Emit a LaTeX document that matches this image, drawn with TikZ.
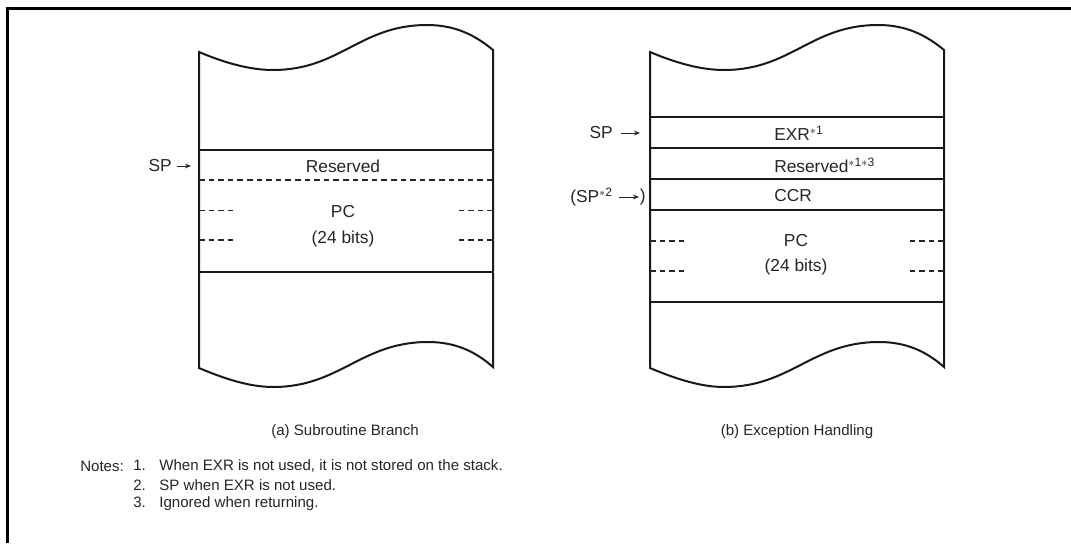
\documentclass[tikz,border=0pt]{standalone}
\usepackage{fontspec}
\setmainfont{Liberation Sans}
\usetikzlibrary{arrows.meta}
\begin{document}
\begin{tikzpicture}[x=0.75pt,y=-0.75pt,
  stackline/.style={line width=1.5pt,draw=black!90},
  divline/.style={line width=1.5pt,draw=black!90},
  dashline/.style={line width=0.85pt,draw=black!85,dash pattern=on 4.2pt off 3pt},
  txt/.style={inner sep=0pt,font=\fontsize{13}{15}\selectfont,text=black!85},
  small/.style={inner sep=0pt,font=\fontsize{11.3}{13}\selectfont,text=black!85},
  sparrow/.style={line width=0.6pt,draw=black!85,-{Stealth[length=4.5pt,width=3.6pt]}}]
\useasboundingbox (0,0) rectangle (1071,543);
\fill[white] (0,0) rectangle (1071,543);
% outer frame
\draw[line width=1.7pt] (7.5,543) -- (7.5,8.5) -- (1071,8.5);

% ---------- stack (a) ----------
\draw[stackline] (199,52) .. controls (225,63) and (250,70) .. (273,70)
  .. controls (340,70) and (360,25) .. (427,25)
  .. controls (455,25) and (475,35) .. (493,50)
  -- (493,367)
  .. controls (476,352) and (456,342) .. (428,342)
  .. controls (361,342) and (340,387) .. (273,387)
  .. controls (250,387) and (225,379) .. (199,368) -- cycle;
\draw[divline] (199,149.5) -- (493,149.5);
\draw[divline] (199,271.5) -- (493,271.5);
\draw[dashline] (199,180) -- (493,180);
\draw[dashline] (199,210.5) -- (236,210.5);
\draw[dashline] (199,240) -- (236,240);
\draw[dashline] (493,210.5) -- (456,210.5);
\draw[dashline] (493,240) -- (456,240);
\node[txt] (resA) at (343,166) {Reserved};
\node[txt] (pcA) at (343,212) {PC};
\node[txt] (bitsA) at (343,239) {(24 bits)};
\node[txt,anchor=east] (spA) at (172,166) {SP};
\coordinate (spAend) at (191,166);
\draw[sparrow] ([xshift=3.5pt]spA.east) -- (spAend);
\node[small] (capA) at (345,432) {(a) Subroutine Branch};

% ---------- stack (b) ----------
\draw[stackline] (650,52) .. controls (676,63) and (701,70) .. (724,70)
  .. controls (791,70) and (811,25) .. (878,25)
  .. controls (906,25) and (926,35) .. (944,50)
  -- (944,367)
  .. controls (927,352) and (907,342) .. (879,342)
  .. controls (812,342) and (791,387) .. (724,387)
  .. controls (701,387) and (676,379) .. (650,368) -- cycle;
\draw[divline] (650,116.5) -- (944,116.5);
\draw[divline] (650,148) -- (944,148);
\draw[divline] (650,179) -- (944,179);
\draw[divline] (650,210) -- (944,210);
\draw[divline] (650,302) -- (944,302);
\draw[dashline] (650,241) -- (687,241);
\draw[dashline] (650,271) -- (687,271);
\draw[dashline] (944,241) -- (907,241);
\draw[dashline] (944,271) -- (907,271);
\node[txt,anchor=west] (exr) at (774,133) {EXR\textsuperscript{$\ast$1}};
\node[txt,anchor=west] (resB) at (774,165) {Reserved\textsuperscript{$\ast$1$\ast$3}};
\node[txt,anchor=west] (ccr) at (774,196) {CCR};
\node[txt] (pcB) at (796,241) {PC};
\node[txt] (bitsB) at (796,267) {(24 bits)};
\node[txt,anchor=east] (spB) at (613,133) {SP};
\coordinate (spBend) at (640,133);
\draw[sparrow] ([xshift=6pt]spB.east) -- (spBend);
\node[txt,anchor=east] (spB2) at (613,197) {(SP\textsuperscript{$\ast$2}};
\coordinate (spB2end) at (639,197);
\draw[sparrow] ([xshift=4.5pt]spB2.east) -- (spB2end);
\node[txt,anchor=west] (paren) at (639.5,197) {)};
\node[small] (capB) at (797,432) {(b) Exception Handling};

% ---------- notes ----------
\node[small,anchor=west] (notes) at (80,466) {Notes:};
\node[small,anchor=west] (n1) at (133,466) {1.\hspace{0.9em}When EXR is not used, it is not stored on the stack.};
\node[small,anchor=west] (n2) at (133,485) {2.\hspace{0.9em}SP when EXR is not used.};
\node[small,anchor=west] (n3) at (133,504) {3.\hspace{0.9em}Ignored when returning.};
\end{tikzpicture}
\end{document}
